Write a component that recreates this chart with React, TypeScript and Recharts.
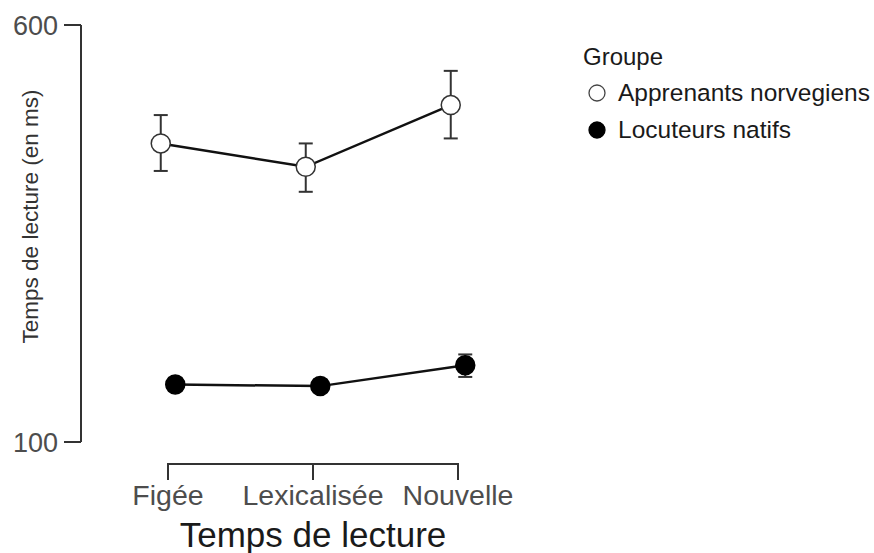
import { LineChart, Line, XAxis, YAxis, ErrorBar, Legend, Label } from 'recharts';

const categories = ['Figée', 'Lexicalisée', 'Nouvelle'];
const apprenantsMean = [458, 430, 504];
const apprenantsLow = [425, 400, 464];
const apprenantsHigh = [492, 458, 545];
const natifsMean = [169, 167, 192];
const natifsLow = [162, 160, 178];
const natifsHigh = [177, 175, 205];
const yTicks = [100, 600];
const xTicks = [1, 2, 3];

const FONT = '"Liberation Sans", Arial, sans-serif';
const X_DOMAIN: [number, number] = [0.4, 3.6];
const PLOT_W = 464;
const DODGE = 0.05;

const buildRows = (mean: number[], low: number[], high: number[], shift: number) =>
    categories.map((c, i) => ({
        x: i + 1 + shift,
        cat: c,
        y: mean[i],
        err: [mean[i] - low[i], high[i] - mean[i]],
    }));

const apprenantsRows = buildRows(apprenantsMean, apprenantsLow, apprenantsHigh, -DODGE);
const natifsRows = buildRows(natifsMean, natifsLow, natifsHigh, DODGE);

const series = [
    { name: 'Apprenants norvegiens', rows: apprenantsRows, fill: '#ffffff' },
    { name: 'Locuteurs natifs', rows: natifsRows, fill: '#000000' },
];

// capped x axis: line only between first and last tick, pushed below the panel
function XTick(props: any) {
    const { x, y, payload, index, visibleTicksCount } = props;
    const step = (props.width || PLOT_W) / (X_DOMAIN[1] - X_DOMAIN[0]);
    const label = categories[Math.round(payload.value) - 1];
    return (
        <g>
            {index < visibleTicksCount - 1 && (
                <line x1={x} y1={y + 22} x2={x + step} y2={y + 22} stroke="#333" strokeWidth={2} />
            )}
            <line x1={x} y1={y + 21} x2={x} y2={y + 38} stroke="#333" strokeWidth={2} />
            <text x={x} y={y + 63} textAnchor="middle" fill="#4d4d4d" fontSize={28.5} fontFamily={FONT}>
                {label}
            </text>
        </g>
    );
}

function GroupLegend({ payload }: any) {
    return (
        <div style={{ fontFamily: FONT, color: '#1a1a1a' }}>
            <div style={{ fontSize: 24, lineHeight: '34px', marginLeft: 5 }}>Groupe</div>
            {(payload || []).map((entry: any) => {
                const s = series.find((d) => d.name === entry.value);
                return (
                    <div key={entry.value} style={{ display: 'flex', alignItems: 'center', fontSize: 24.5, lineHeight: '37px' }}>
                        <svg width={30} height={20} style={{ marginRight: 10 }}>
                            <circle cx={19} cy={10} r={8} fill={s ? s.fill : '#000'} stroke={s && s.fill === '#ffffff' ? '#444' : '#000'} strokeWidth={1.3} />
                        </svg>
                        <span>{entry.value}</span>
                    </div>
                );
            })}
        </div>
    );
}

export default function App() {
    return (
        <div style={{ position: 'fixed', left: 0, top: 0, background: '#fff' }}>
            <LineChart width={874} height={553} margin={{ top: 25, right: 329, left: 0, bottom: 6 }}>
                <XAxis
                    type="number"
                    dataKey="x"
                    domain={X_DOMAIN}
                    ticks={xTicks}
                    allowDataOverflow
                    height={105}
                    axisLine={false}
                    tickLine={false}
                    tickSize={0}
                    tickMargin={0}
                    tick={<XTick />}
                >
                    <Label value="Temps de lecture" position="insideBottom" offset={0} fill="#1a1a1a" fontSize={35} fontFamily={FONT} />
                </XAxis>
                <YAxis
                    type="number"
                    domain={[100, 600]}
                    ticks={yTicks}
                    allowDataOverflow
                    width={81}
                    axisLine={{ stroke: '#333', strokeWidth: 2 }}
                    tickLine={{ stroke: '#333', strokeWidth: 2 }}
                    tickSize={17}
                    tickMargin={6}
                    tick={{ fill: '#4d4d4d', fontSize: 27, fontFamily: FONT }}
                >
                    <Label
                        value="Temps de lecture (en ms)"
                        angle={-90}
                        position="insideLeft"
                        offset={30}
                        dy={-17}
                        fill="#333"
                        fontSize={22.5}
                        fontFamily={FONT}
                        style={{ textAnchor: 'middle' }}
                    />
                </YAxis>
                <Legend
                    layout="vertical"
                    align="center"
                    verticalAlign="middle"
                    wrapperStyle={{ left: 578, top: 40, width: 296 }}
                    content={<GroupLegend />}
                />
                {series.map((s) => (
                    <Line
                        key={s.name}
                        data={s.rows}
                        dataKey="y"
                        name={s.name}
                        stroke="#111"
                        strokeWidth={2.5}
                        dot={{ r: 9.5, fill: s.fill, stroke: s.fill === '#000000' ? '#000' : '#333', strokeWidth: 1.5 }}
                        activeDot={false}
                        isAnimationActive={false}
                    >
                        <ErrorBar dataKey="err" direction="y" width={7} stroke="#333" strokeWidth={2} />
                    </Line>
                ))}
            </LineChart>
        </div>
    );
}
